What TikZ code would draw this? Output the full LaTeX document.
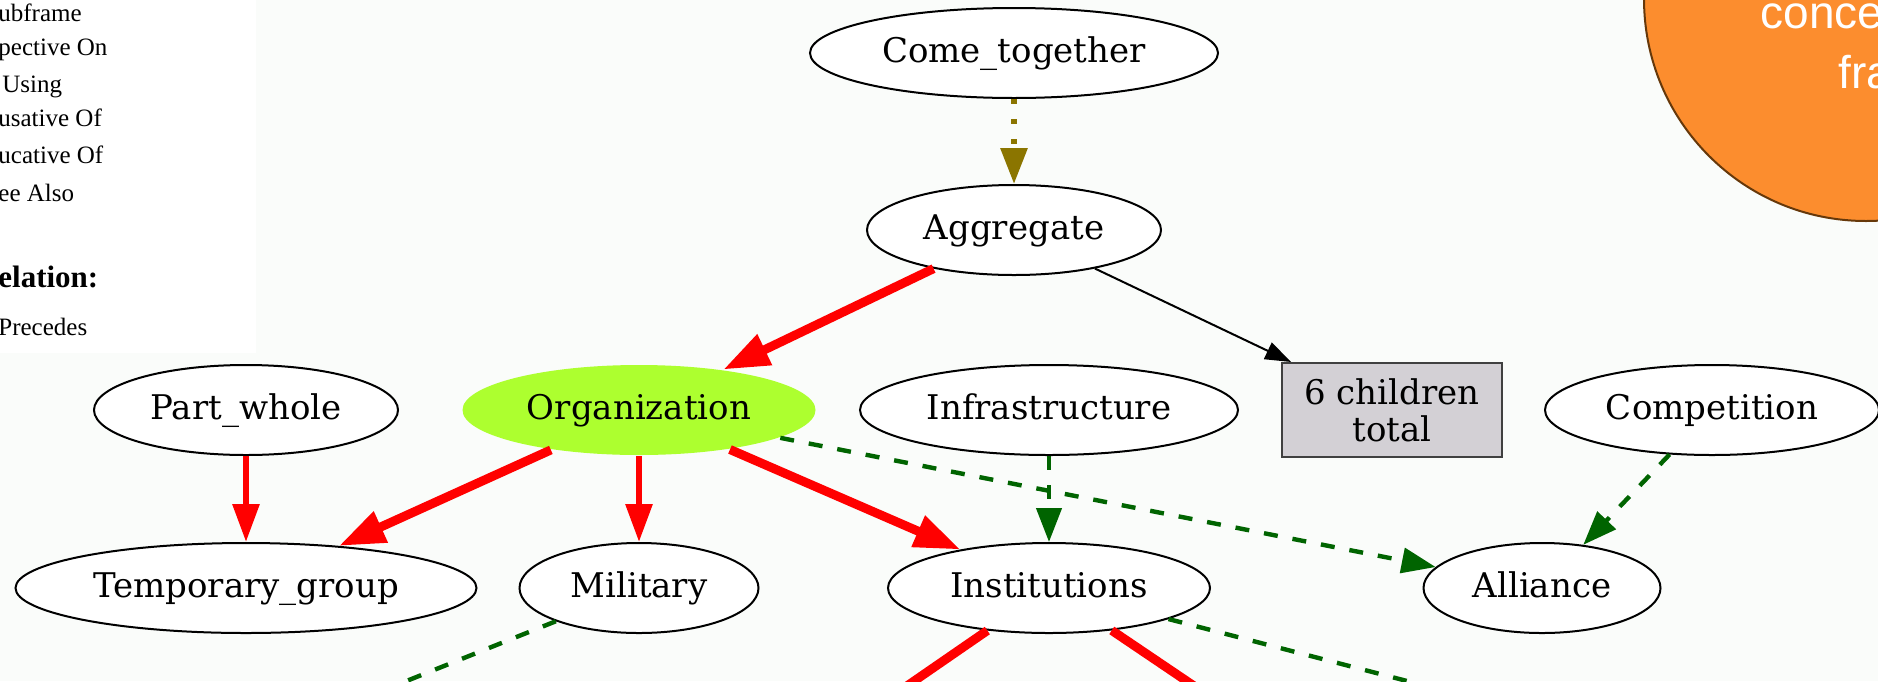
\documentclass[tikz,border=0pt]{standalone}
\usepackage{fontspec}
\setmainfont{DejaVu Serif}
\newfontfamily\legendfont{Liberation Serif}
\newfontfamily\bubblefont{Liberation Sans}
\usepackage{xcolor}
\usetikzlibrary{positioning,arrows.meta,shapes.geometric}

\definecolor{pagebg}{RGB}{250,252,250}
\definecolor{focusgreen}{RGB}{173,255,47}
\definecolor{countgray}{RGB}{211,208,213}
\definecolor{usegreen}{RGB}{0,100,0}
\definecolor{perspolive}{RGB}{139,117,0}
\definecolor{bubbleorange}{RGB}{252,141,46}
\definecolor{bubbleedge}{RGB}{102,56,10}

\begin{document}
\begin{tikzpicture}[
  on grid,
  node distance=89pt,
  framenode/.style={ellipse, draw=black, line width=1pt, fill=white, inner sep=0pt,
            minimum height=45pt, text height=12.5pt, text depth=3.5pt,
            font=\fontsize{17}{20}\selectfont},
  countbox/.style={rectangle, draw=black!75, fill=countgray, line width=1pt,
            minimum width=110pt, minimum height=47pt, align=center,
            font=\fontsize{17}{18.5}\selectfont},
  legendtext/.style={anchor=west, inner sep=0pt, font=\legendfont\fontsize{12.5}{14}\selectfont},
  every edge/.style={draw},
  inhedge/.style={draw=red, line width=3pt, -{Triangle[length=19pt,width=13pt]}},   % inheritance
  inhthick/.style={draw=red, line width=4.5pt, -{Triangle[length=23pt,width=16pt]}},
  useedge/.style={draw=usegreen, line width=2.2pt, dash pattern=on 7pt off 7.5pt,
            -{Triangle[length=17pt,width=12.5pt]}},                                 % using
  perspedge/.style={draw=perspolive, line width=3pt, dash pattern=on 2.5pt off 7.5pt,
            -{Triangle[length=18pt,width=13pt]}},
  countedge/.style={draw=black, line width=1pt, -{Triangle[length=13pt,width=9pt]}}
]
  \useasboundingbox (0pt,0pt) rectangle (939pt,-340.5pt);
  \clip (0pt,0pt) rectangle (939pt,-340.5pt);
  \fill[pagebg] (0pt,0pt) rectangle (939pt,-340.5pt);

  % legend panel, cut at the left edge
  \fill[white] (0pt,0pt) rectangle (128pt,-176.5pt);
  \node[legendtext] (lsub) at (-1pt,-6.5pt) {ubframe};
  \node[legendtext] (lpersp) at (-1pt,-25pt) {pective On};
  \node[legendtext] (lusing) at (1pt,-43.5pt) {Using};
  \node[legendtext] (lcaus) at (-1pt,-59pt) {usative Of};
  \node[legendtext] (linch) at (-1pt,-77.5pt) {ucative Of};
  \node[legendtext] (lsee) at (-1pt,-96.5pt) {ee Also};
  \node[legendtext, font=\legendfont\bfseries\fontsize{15.5}{17}\selectfont] (lrel) at (-1pt,-138.5pt) {elation:};
  \node[legendtext] (lprec) at (-1pt,-163.5pt) {Precedes};

  % hint bubble, top right
  \draw[bubbleedge, fill=bubbleorange, line width=1pt] (933pt,0.5pt) circle[radius=111pt];
  \node[anchor=base west, inner sep=0pt, text=white, font=\bubblefont\fontsize{23}{27}\selectfont]
    (bubbleA) at (880pt,-14pt) {conce};
  \node[anchor=base west, inner sep=0pt, text=white, font=\bubblefont\fontsize{23}{27}\selectfont]
    (bubbleB) at (919pt,-44pt) {fra};

  % frames
  \node[framenode, minimum width=204pt] (come) at (507pt,-26.5pt) {Come\_together};
  \node[framenode, minimum width=147pt] (agg) [below=88.5pt of come] {Aggregate};
  \node[framenode, draw=none, fill=focusgreen, minimum width=176.5pt] (org) [below left=90pt and 187.5pt of agg] {Organization};
  \node[framenode, minimum width=152pt] (part) [left=196.5pt of org] {Part\_whole};
  \node[framenode, minimum width=189pt] (infra) [right=205pt of org] {Infrastructure};
  \node[countbox] (count) [right=171.5pt of infra] {6 children\\total};
  \node[framenode, minimum width=167pt] (comp) [right=160pt of count] {Competition};
  \node[framenode, minimum width=230.5pt] (temp) [below=of part] {Temporary\_group};
  \node[framenode, minimum width=119.5pt] (mil) [below=of org] {Military};
  \node[framenode, minimum width=161pt] (inst) [below=of infra] {Institutions};
  \node[framenode, minimum width=118.5pt] (alli) [below right=89pt and 246.5pt of infra] {Alliance};

  % children below the visible part
  \coordinate[below left=80pt and 200pt of mil] (milout);
  \coordinate[below left=100pt and 145pt of inst] (instoutA);
  \coordinate[below right=100pt and 148pt of inst] (instoutB);
  \coordinate[below right=100pt and 385pt of inst] (instoutC);

  \draw (come) edge [perspedge] (agg);
  \draw (agg) edge [inhthick] (org);
  \draw (agg) edge [countedge] (count);
  \draw (part) edge [inhedge] (temp);
  \draw (org) edge [inhthick] (temp);
  \draw (org) edge [inhedge] (mil);
  \draw (org) edge [inhthick] (inst);
  \draw (org) edge [useedge] (alli);
  \draw (infra) edge [useedge] (inst);
  \draw (comp) edge [useedge] (alli);
  \draw (mil) edge [useedge, -] (milout);
  \draw (inst) edge [inhthick, -] (instoutA);
  \draw (inst) edge [inhthick, -] (instoutB);
  \draw (inst) edge [useedge, -] (instoutC);
\end{tikzpicture}
\end{document}
